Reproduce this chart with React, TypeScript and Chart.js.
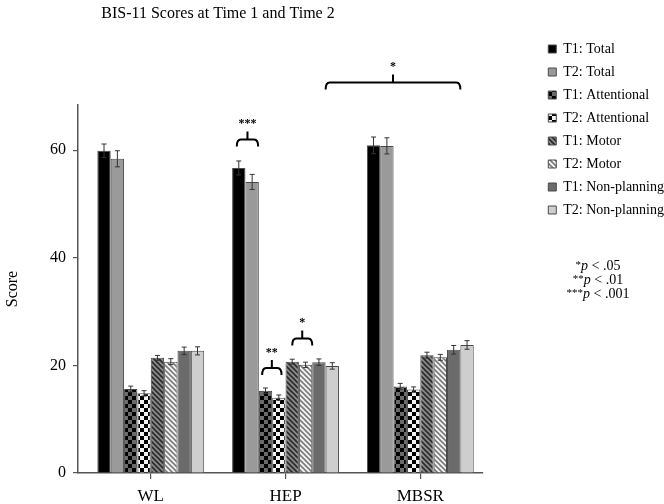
import React, { useEffect, useRef } from 'react';
import { Chart, registerables } from 'chart.js';

Chart.register(...registerables);

const FONT = "'Liberation Serif', 'Times New Roman', serif";

const groups = ['WL', 'HEP', 'MBSR'];
const seriesNames = [
  'T1: Total',
  'T2: Total',
  'T1: Attentional',
  'T2: Attentional',
  'T1: Motor',
  'T2: Motor',
  'T1: Non-planning',
  'T2: Non-planning',
];
const t1Total = [59.9, 56.7, 60.9];
const t2Total = [58.4, 54.1, 60.8];
const t1Attn = [15.6, 15.3, 16.1];
const t2Attn = [14.8, 14.0, 15.5];
const t1Motor = [21.4, 20.7, 21.9];
const t2Motor = [20.7, 20.1, 21.5];
const t1NonPlan = [22.7, 20.6, 22.9];
const t2NonPlan = [22.7, 19.9, 23.8];

const t1TotalErr = [1.25, 1.3, 1.55];
const t2TotalErr = [1.5, 1.4, 1.5];
const t1AttnErr = [0.55, 0.5, 0.55];
const t2AttnErr = [0.5, 0.5, 0.5];
const t1MotorErr = [0.45, 0.45, 0.55];
const t2MotorErr = [0.55, 0.5, 0.55];
const t1NonPlanErr = [0.7, 0.6, 0.8];
const t2NonPlanErr = [0.75, 0.6, 0.8];

const yTicks = [0, 20, 40, 60];
const yMax = 68.4;

// significance brackets: dataset A / group A, dataset B / group B, level (value), label
const bracketA = [0, 2, 4, 7];
const bracketGroupA = [1, 1, 1, 1];
const bracketB = [1, 3, 5, 7];
const bracketGroupB = [1, 1, 1, 2];
const bracketLevel = [62.0, 19.5, 25.0, 72.6];
const bracketLabel = ['***', '**', '*', '*'];
const bracketOffA = [-0.15, -0.25, 0, -0.5];
const bracketOffB = [0.45, 0.2, 0.5, -0.5];

const pStars = ['*', '**', '***'];
const pValues = ['.05', '.01', '.001'];

const title = 'BIS-11 Scores at Time 1 and Time 2';

function makePattern(size: number, draw: (c: CanvasRenderingContext2D) => void) {
  const cv = document.createElement('canvas');
  cv.width = size;
  cv.height = size;
  const c = cv.getContext('2d') as CanvasRenderingContext2D;
  draw(c);
  return c.createPattern(cv, 'repeat') as CanvasPattern;
}

function checker(a: string, b: string) {
  return makePattern(8, (c) => {
    c.fillStyle = b;
    c.fillRect(0, 0, 8, 8);
    c.fillStyle = a;
    c.fillRect(0, 0, 4, 4);
    c.fillRect(4, 4, 4, 4);
  });
}

function diag(bg: string, fg: string) {
  const s = 5;
  return makePattern(s, (c) => {
    c.fillStyle = bg;
    c.fillRect(0, 0, s, s);
    c.strokeStyle = fg;
    c.lineWidth = 1.6;
    for (const x0 of [-s, 0, s]) {
      c.beginPath();
      c.moveTo(x0 - 1, -1);
      c.lineTo(x0 + s + 1, s + 1);
      c.stroke();
    }
  });
}

export default function App() {
  const ref = useRef<HTMLCanvasElement>(null);

  useEffect(() => {
    const canvas = ref.current;
    if (!canvas) return;

    const values = [t1Total, t2Total, t1Attn, t2Attn, t1Motor, t2Motor, t1NonPlan, t2NonPlan];
    const errs = [t1TotalErr, t2TotalErr, t1AttnErr, t2AttnErr, t1MotorErr, t2MotorErr, t1NonPlanErr, t2NonPlanErr];
    const fills: (string | CanvasPattern)[] = [
      '#000000',
      '#9a9a9a',
      checker('#000000', '#6a6a6a'),
      checker('#000000', '#f2f2f2'),
      diag('#8a8a8a', '#2a2a2a'),
      diag('#f4f4f4', '#7a7a7a'),
      '#6b6b6b',
      '#cecece',
    ];

    const errorBars = {
      id: 'errorBars',
      afterDatasetsDraw(chart: any) {
        const ctx = chart.ctx;
        const ys = chart.scales.y;
        ctx.save();
        ctx.strokeStyle = '#333';
        ctx.lineWidth = 1;
        values.forEach((vals, d) => {
          const meta = chart.getDatasetMeta(d);
          meta.data.forEach((bar: any, i: number) => {
            const v = vals[i];
            const e = errs[d][i];
            const top = ys.getPixelForValue(v + e);
            const bot = ys.getPixelForValue(v - e);
            const x = bar.x;
            ctx.beginPath();
            ctx.moveTo(x, top);
            ctx.lineTo(x, bot);
            ctx.moveTo(x - 2.5, top);
            ctx.lineTo(x + 2.5, top);
            ctx.moveTo(x - 2.5, bot);
            ctx.lineTo(x + 2.5, bot);
            ctx.stroke();
          });
        });
        ctx.restore();
      },
    };

    const annotations = {
      id: 'annotations',
      afterDraw(chart: any) {
        const ctx = chart.ctx;
        const ys = chart.scales.y;
        ctx.save();
        // brackets
        ctx.strokeStyle = '#000';
        ctx.lineWidth = 2;
        ctx.fillStyle = '#000';
        bracketLevel.forEach((lvl, k) => {
          const barA = chart.getDatasetMeta(bracketA[k]).data[bracketGroupA[k]];
          const barB = chart.getDatasetMeta(bracketB[k]).data[bracketGroupB[k]];
          const x1 = barA.x + bracketOffA[k] * barA.width;
          const x2 = barB.x + bracketOffB[k] * barB.width;
          const xm = (x1 + x2) / 2;
          const y = ys.getPixelForValue(lvl);
          ctx.beginPath();
          ctx.moveTo(x1, y + 7);
          ctx.quadraticCurveTo(x1, y, x1 + 4, y);
          ctx.lineTo(x2 - 4, y);
          ctx.quadraticCurveTo(x2, y, x2, y + 7);
          ctx.moveTo(xm, y);
          ctx.lineTo(xm, y - 8);
          ctx.stroke();
          ctx.font = `bold 12px ${FONT}`;
          ctx.textAlign = 'center';
          ctx.textBaseline = 'alphabetic';
          ctx.fillText(bracketLabel[k], xm, y - 12);
        });

        // title
        ctx.font = `16px ${FONT}`;
        ctx.textAlign = 'center';
        ctx.textBaseline = 'alphabetic';
        ctx.fillText(title, 218, 18);

        // p-value note
        pStars.forEach((s, i) => {
          const base = 270 + i * 14;
          ctx.font = `11px ${FONT}`;
          const wS = ctx.measureText(s).width;
          ctx.font = `italic 14px ${FONT}`;
          const wP = ctx.measureText('p').width;
          ctx.font = `14px ${FONT}`;
          const rest = ' < ' + pValues[i];
          const wR = ctx.measureText(rest).width;
          let x = 598 - (wS + wP + wR) / 2;
          ctx.textAlign = 'left';
          ctx.font = `11px ${FONT}`;
          ctx.fillText(s, x, base - 2);
          x += wS;
          ctx.font = `italic 14px ${FONT}`;
          ctx.fillText('p', x, base);
          x += wP;
          ctx.font = `14px ${FONT}`;
          ctx.fillText(rest, x, base);
        });
        ctx.restore();
      },
    };

    const chart = new Chart(canvas, {
      type: 'bar',
      data: {
        datasets: seriesNames.map((name, d) => ({
          label: name,
          data: values[d].map((v, i) => ({ x: i, y: v })),
          backgroundColor: fills[d],
          borderColor: '#4a4a4a',
          borderWidth: 1,
          xAxisID: 'x',
          yAxisID: 'y',
          categoryPercentage: 0.793,
          barPercentage: 1.0,
        })),
      },
      options: {
        animation: false,
        responsive: false,
        devicePixelRatio: 1,
        layout: { padding: { top: 33, right: -10, bottom: 0, left: 0 } },
        plugins: {
          title: { display: false },
          tooltip: { enabled: false },
          legend: {
            position: 'right',
            align: 'start',
            maxWidth: 160,
            labels: {
              boxWidth: 8,
              boxHeight: 8,
              padding: 9,
              color: '#000',
              font: { family: FONT, size: 14 },
            },
          },
        },
        scales: {
          x: {
            type: 'linear',
            position: 'bottom',
            min: -0.54,
            max: 2.46,
            offset: false,
            afterBuildTicks: (axis: any) => {
              axis.ticks = groups.map((_, i) => ({ value: i }));
            },
            afterFit: (axis: any) => {
              axis.height = 31;
            },
            grid: {
              display: true,
              drawOnChartArea: false,
              drawTicks: true,
              tickLength: 6,
              color: '#555',
              lineWidth: 1.2,
              offset: false,
            },
            border: { display: true, color: '#555', width: 1.5 },
            ticks: {
              padding: 7,
              maxRotation: 0,
              autoSkip: false,
              color: '#000',
              font: { family: FONT, size: 17 },
              callback: (v: any) => groups[v as number] ?? '',
            },
          },
          xTop: {
            type: 'linear',
            position: 'top',
            display: true,
            afterFit: (axis: any) => {
              axis.height = 72;
            },
            grid: { display: false },
            border: { display: false },
            ticks: { display: false },
          },
          y: {
            type: 'linear',
            position: 'left',
            min: 0,
            max: yMax,
            afterBuildTicks: (axis: any) => {
              axis.ticks = yTicks.map((v) => ({ value: v }));
            },
            afterFit: (axis: any) => {
              axis.width = 78;
            },
            grid: {
              display: true,
              drawOnChartArea: false,
              drawTicks: true,
              tickLength: 5,
              color: '#555',
              lineWidth: 1.2,
            },
            border: { display: true, color: '#555', width: 1.5 },
            ticks: {
              padding: 7,
              color: '#000',
              font: { family: FONT, size: 16 },
            },
            title: {
              display: true,
              text: 'Score',
              color: '#000',
              font: { family: FONT, size: 16 },
              padding: { top: 3, bottom: 28 },
            },
          },
          yRight: {
            type: 'linear',
            position: 'right',
            display: true,
            afterFit: (axis: any) => {
              axis.width = 57;
            },
            grid: { display: false },
            border: { display: false },
            ticks: { display: false },
          },
        },
      } as any,
      plugins: [errorBars, annotations],
    });

    return () => chart.destroy();
  }, []);

  return (
    <div style={{ position: 'absolute', left: 0, top: 0, width: 664, height: 504, background: '#fff' }}>
      <canvas ref={ref} width={664} height={504} style={{ display: 'block', width: 664, height: 504 }} />
    </div>
  );
}
